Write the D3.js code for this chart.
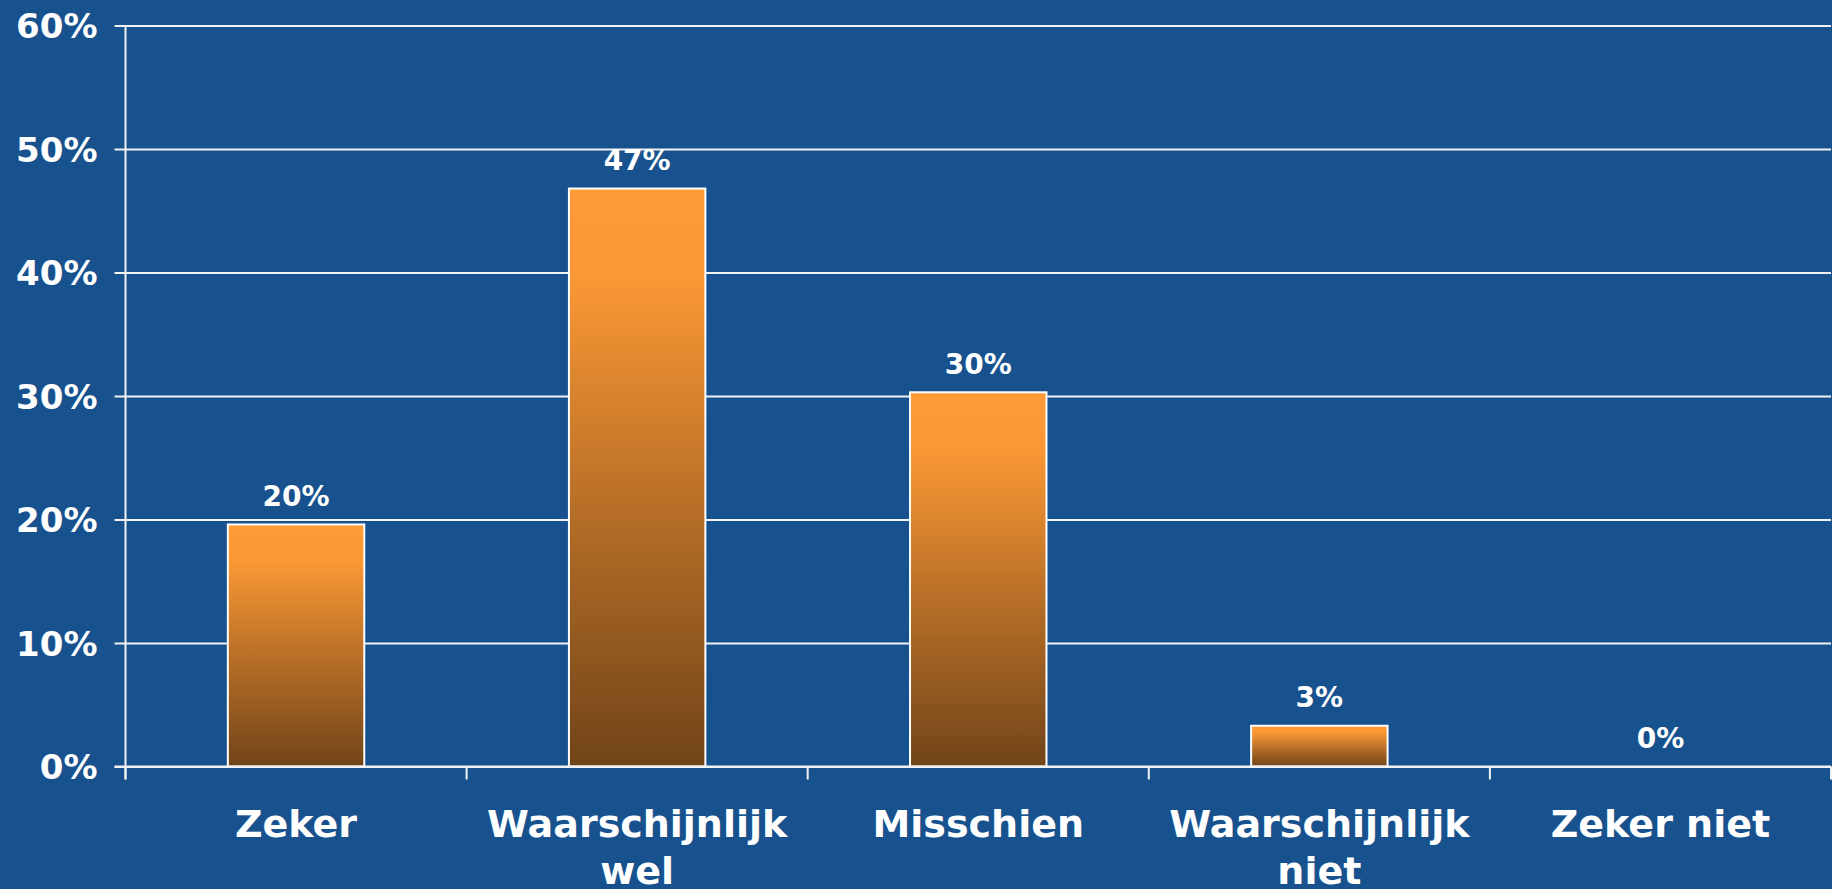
<!DOCTYPE html>
<html>
<head>
<meta charset="utf-8">
<script src="https://cdn.jsdelivr.net/npm/d3@7"></script>
<style>
html, body { margin: 0; padding: 0; background: #17528f; overflow: hidden; }
text { font-family: "DejaVu Sans", Verdana, sans-serif; font-weight: bold; fill: #ffffff; }
</style>
</head>
<body>
<div id="chart"></div>
<script>
var categories = [["Zeker"], ["Waarschijnlijk", "wel"], ["Misschien"], ["Waarschijnlijk", "niet"], ["Zeker niet"]];
var values = [19.6, 46.8, 30.3, 3.3, 0];
var valueLabels = ["20%", "47%", "30%", "3%", "0%"];
var yTicks = [0, 10, 20, 30, 40, 50, 60];

var width = 1832,
    height = 889,
    margin = {top: 25.5, right: 1, bottom: 122.5, left: 125.5},
    innerW = width - margin.left - margin.right,
    innerH = height - margin.top - margin.bottom,
    gridColor = '#f2f2f2';

var svg = d3.select("#chart")
    .append("svg")
    .attr("width", width)
    .attr("height", height);

svg.append("rect")
    .attr("width", "100%")
    .attr("height", "100%")
    .attr("fill", "#17528f");

var defs = svg.append("defs");
var grad = defs.append("linearGradient")
    .attr("id", "barGrad")
    .attr("x1", 0).attr("y1", 0)
    .attr("x2", 0).attr("y2", 1);
grad.append("stop").attr("offset", "0%").attr("stop-color", "#ff9b36");
grad.append("stop").attr("offset", "15%").attr("stop-color", "#fb9835");
grad.append("stop").attr("offset", "55%").attr("stop-color", "#b86f27");
grad.append("stop").attr("offset", "100%").attr("stop-color", "#714419");

var g = svg.append("g")
    .attr("transform", "translate(" + margin.left + "," + margin.top + ")");

var keys = d3.range(categories.length);

// category slots (tick boundaries)
var xSlot = d3.scaleBand()
    .domain(keys)
    .range([0, innerW])
    .padding(0);

// bars
var xBar = d3.scaleBand()
    .domain(keys)
    .range([0, innerW])
    .paddingInner(0.6)
    .paddingOuter(0.3);

var y = d3.scaleLinear()
    .domain([0, 60])
    .range([innerH, 0]);

// horizontal gridlines + y labels
var yAxis = d3.axisLeft(y)
    .tickValues(yTicks)
    .tickSize(-innerW)
    .tickPadding(0)
    .tickFormat(function (d) { return d + "%"; });

var yG = g.append("g").call(yAxis);
yG.select(".domain").remove();
yG.selectAll(".tick line")
    .attr("x1", -11)
    .attr("stroke", gridColor)
    .attr("stroke-width", 2);
yG.selectAll(".tick text")
    .attr("x", -28)
    .attr("dy", "0.36em")
    .style("font-size", "34px")
    .style("font-family", "'DejaVu Sans', Verdana, sans-serif")
    .style("font-weight", "bold")
    .attr("fill", "#ffffff");

// left axis line
g.append("line")
    .attr("x1", 0).attr("x2", 0)
    .attr("y1", 0).attr("y2", innerH + 13)
    .attr("stroke", gridColor)
    .attr("stroke-width", 2);

// x ticks at slot boundaries
var bounds = keys.map(function (k) { return xSlot(k); }).concat([innerW]);
g.selectAll("line.xtick")
    .data(bounds)
    .enter()
    .append("line")
    .attr("class", "xtick")
    .attr("x1", function (d) { return d; })
    .attr("x2", function (d) { return d; })
    .attr("y1", innerH)
    .attr("y2", innerH + 13)
    .attr("stroke", gridColor)
    .attr("stroke-width", 2);

// bars
g.selectAll("rect.bar")
    .data(values)
    .enter()
    .append("rect")
    .attr("class", "bar")
    .attr("x", function (d, i) { return xBar(i); })
    .attr("y", function (d) { return y(d); })
    .attr("width", xBar.bandwidth())
    .attr("height", function (d) { return innerH - y(d); })
    .attr("fill", "url(#barGrad)")
    .attr("stroke", "#ffffff")
    .attr("stroke-width", 2)
    .style("display", function (d) { return d > 0 ? null : "none"; });

// baseline drawn over bars
g.append("line")
    .attr("x1", -11).attr("x2", innerW)
    .attr("y1", innerH).attr("y2", innerH)
    .attr("stroke", gridColor)
    .attr("stroke-width", 2);

// value labels
g.selectAll("text.val")
    .data(values)
    .enter()
    .append("text")
    .attr("class", "val")
    .attr("x", function (d, i) { return xSlot(i) + xSlot.bandwidth() / 2; })
    .attr("y", function (d) { return y(d) - 18.5; })
    .attr("text-anchor", "middle")
    .style("font-size", "28px")
    .text(function (d, i) { return valueLabels[i]; });

// category labels
var cat = g.selectAll("text.cat")
    .data(categories)
    .enter()
    .append("text")
    .attr("class", "cat")
    .attr("text-anchor", "middle")
    .attr("transform", function (d, i) {
        return "translate(" + (xSlot(i) + xSlot.bandwidth() / 2) + "," + (innerH + 70.5) + ")";
    })
    .style("font-size", "38px");

cat.selectAll("tspan")
    .data(function (d) { return d; })
    .enter()
    .append("tspan")
    .attr("x", 0)
    .attr("y", function (d, i) { return i * 47; })
    .text(function (d) { return d; });
</script>
</body>
</html>
